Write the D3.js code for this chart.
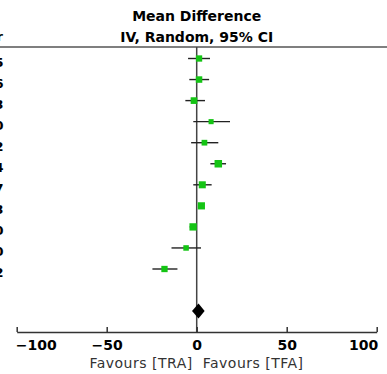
<!DOCTYPE html>
<html>
<head>
<meta charset="utf-8">
<script src="https://cdn.jsdelivr.net/npm/d3@7"></script>
<style>
  body { margin: 0; background: #fff; }
  svg { display: block; font-family: "DejaVu Sans", Verdana, sans-serif; }
</style>
</head>
<body>
<div id="chart"></div>
<script>
// Data
var years   = [ '2015', '2016', '2013', '2010', '2012', '2014', '2017', '2013', '2010', '2010', '2012' ];
var md      = [ 1.3, 1.3, -1.5, 8.0, 4.3, 12.0, 3.1, 2.6, -2.0, -5.9, -17.9 ];
var ci_low  = [ -4.8, -4.1, -6.3, -1.9, -3.1, 7.6, -1.9, 1.5, -3.9, -14.0, -24.6 ];
var ci_high = [ 7.4, 6.9, 4.6, 18.5, 12.0, 16.3, 8.3, 3.7, -0.4, 2.4, -10.7 ];
var weights = [ 8.5, 9.0, 9.5, 5.5, 7.0, 12.0, 10.5, 11.0, 11.5, 6.5, 8.5 ];
var total   = [ 1.0, -2.6, 4.4 ];   // mean, low, high
var ticks   = [ -100, -50, 0, 50, 100 ];
var favours = [ 'Favours [TRA]', 'Favours [TFA]' ];

var chart_width  = 387;
var chart_height = 374;
var axis_y = 332;
var top_y = 47;

var svg = d3.select('#chart')
    .append('svg')
    .attr('width', chart_width)
    .attr('height', chart_height);

// scales
var x = d3.scaleLinear()
    .domain([-100, 100])
    .range([16.7, 376.7]);

var y = d3.scalePoint()
    .domain(d3.range(md.length))
    .range([58.5, 269]);

var size = d3.scaleSqrt()
    .domain([0, 12])
    .range([0, 7.5]);

// header
svg.append('text')
    .attr('x', x(0))
    .attr('y', 21)
    .attr('text-anchor', 'middle')
    .attr('font-weight', 'bold')
    .attr('font-size', 14)
    .text('Mean Difference');

svg.append('text')
    .attr('x', x(0))
    .attr('y', 41.5)
    .attr('text-anchor', 'middle')
    .attr('font-weight', 'bold')
    .attr('font-size', 14)
    .text('IV, Random, 95% CI');

// cut-off column on the left
svg.append('text')
    .attr('x', 3)
    .attr('y', 41)
    .attr('text-anchor', 'end')
    .attr('font-weight', 'bold')
    .attr('font-size', 13)
    .text('Year');

svg.append('line')
    .attr('x1', 0)
    .attr('x2', chart_width)
    .attr('y1', top_y)
    .attr('y2', top_y)
    .attr('stroke', '#555')
    .attr('stroke-width', 1.6);

// zero line
svg.append('line')
    .attr('x1', x(0))
    .attr('x2', x(0))
    .attr('y1', top_y)
    .attr('y2', axis_y)
    .attr('stroke', '#444')
    .attr('stroke-width', 1.5);

var rows = svg.selectAll('g.row')
    .data(md)
    .enter()
    .append('g')
    .attr('class', 'row');

rows.append('text')
    .attr('x', 3.5)
    .attr('y', function(d, i){ return y(i) + 8; })
    .attr('text-anchor', 'end')
    .attr('font-weight', 'bold')
    .attr('font-size', 13)
    .text(function(d, i){ return years[i]; });

rows.append('line')
    .attr('x1', function(d, i){ return x(ci_low[i]); })
    .attr('x2', function(d, i){ return x(ci_high[i]); })
    .attr('y1', function(d, i){ return y(i); })
    .attr('y2', function(d, i){ return y(i); })
    .attr('stroke', '#222')
    .attr('stroke-width', 1.4);

rows.append('rect')
    .attr('x', function(d, i){ return x(d) - size(weights[i]) / 2; })
    .attr('y', function(d, i){ return y(i) - size(weights[i]) / 2; })
    .attr('width', function(d, i){ return size(weights[i]); })
    .attr('height', function(d, i){ return size(weights[i]); })
    .attr('fill', '#14c414');

// pooled diamond
var dy = 311;
svg.append('path')
    .attr('d', 'M' + x(total[1]) + ',' + dy +
               'L' + x(total[0]) + ',' + (dy - 7.5) +
               'L' + x(total[2]) + ',' + dy +
               'L' + x(total[0]) + ',' + (dy + 7.5) + 'Z')
    .attr('fill', '#000');

// axis
var axis = d3.axisBottom(x)
    .tickValues(ticks)
    .tickSizeInner(-5)
    .tickSizeOuter(0)
    .tickPadding(8);

var ax = svg.append('g')
    .attr('transform', 'translate(0,' + axis_y + ')')
    .call(axis);

ax.select('.domain').attr('stroke', '#333').attr('stroke-width', 1.5);
ax.selectAll('.tick line').attr('stroke', '#333').attr('stroke-width', 1.5);
ax.selectAll('.tick text')
    .attr('font-family', '"DejaVu Sans", Verdana, sans-serif')
    .attr('font-size', 14)
    .attr('font-weight', 'bold')
    .attr('fill', '#000')
    .attr('text-anchor', function(d){
        if (d === -100) return 'start';
        if (d === 100) return 'end';
        return 'middle';
    })
    .attr('dx', function(d){
        if (d === -100) return -1.5;
        if (d === 100) return 1;
        return 0;
    });

// favours labels
svg.append('text')
    .attr('x', x(0) - 4)
    .attr('y', 368)
    .attr('text-anchor', 'end')
    .attr('font-size', 14)
    .attr('letter-spacing', 0.5)
    .attr('fill', '#333')
    .text(favours[0]);

svg.append('text')
    .attr('x', x(0) + 6)
    .attr('y', 368)
    .attr('text-anchor', 'start')
    .attr('font-size', 14)
    .attr('letter-spacing', 0.5)
    .attr('fill', '#333')
    .text(favours[1]);
</script>
</body>
</html>
